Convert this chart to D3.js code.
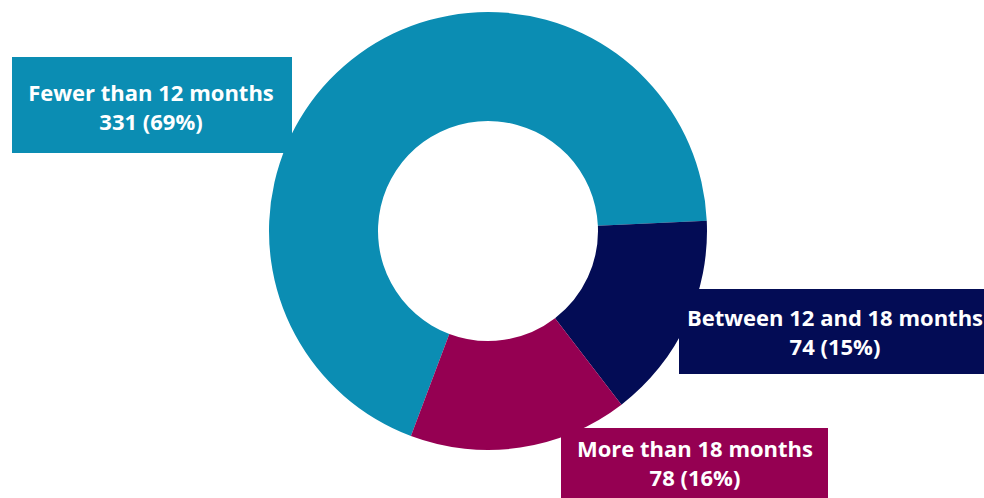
<!DOCTYPE html>
<html>
<head>
<meta charset="utf-8" />
<title>Waiting time donut</title>
<script src="https://cdn.jsdelivr.net/npm/d3@7"></script>
<style>
  body { margin: 0; background: #fff; }
  svg { display: block; font-family: "Open Sans", "Noto Sans", sans-serif; }
</style>
</head>
<body>
<div id="chart"></div>
<script>
// data
var categories = ["Fewer than 12 months", "Between 12 and 18 months", "More than 18 months"];
var counts = [331, 74, 78];
var percents = ["69%", "15%", "16%"];
var colours = ["#0b8db3", "#030c55", "#950052"];

var w = 984, h = 498;
var cx = 488, cy = 231, rOuter = 219, rInner = 110;

// label boxes (layout only)
var boxes = [
  { x: 12, y: 57, w: 280, h: 96, tx: 151, ty: 101 },
  { x: 679, y: 289, w: 320, h: 85, tx: 835, ty: 326 },
  { x: 561, y: 428, w: 267, h: 80, tx: 695, ty: 457 }
];

var svg = d3.select("#chart").append("svg").attr("width", w).attr("height", h);

var start = 200.6 * Math.PI / 180;
var pie = d3.pie().sort(null).value(function(d){ return d; })
  .startAngle(start).endAngle(start + 2 * Math.PI);
var arc = d3.arc().innerRadius(rInner).outerRadius(rOuter);

var g = svg.append("g").attr("transform", "translate(" + cx + "," + cy + ")");
g.selectAll("path")
  .data(pie(counts))
  .enter().append("path")
  .attr("d", arc)
  .attr("fill", function(d, i){ return colours[i]; });

var lab = svg.selectAll("g.lab")
  .data(categories)
  .enter().append("g").attr("class", "lab");

lab.append("rect")
  .attr("x", function(d, i){ return boxes[i].x; })
  .attr("y", function(d, i){ return boxes[i].y; })
  .attr("width", function(d, i){ return boxes[i].w; })
  .attr("height", function(d, i){ return boxes[i].h; })
  .attr("fill", function(d, i){ return colours[i]; });

var txt = lab.append("text")
  .attr("text-anchor", "middle")
  .attr("fill", "#fff")
  .attr("font-weight", "bold")
  .attr("font-size", "22px");

txt.append("tspan")
  .attr("x", function(d, i){ return boxes[i].tx; })
  .attr("y", function(d, i){ return boxes[i].ty; })
  .text(function(d){ return d; });

txt.append("tspan")
  .attr("x", function(d, i){ return boxes[i].tx; })
  .attr("dy", 29)
  .text(function(d, i){ return counts[i] + " (" + percents[i] + ")"; });
</script>
</body>
</html>
